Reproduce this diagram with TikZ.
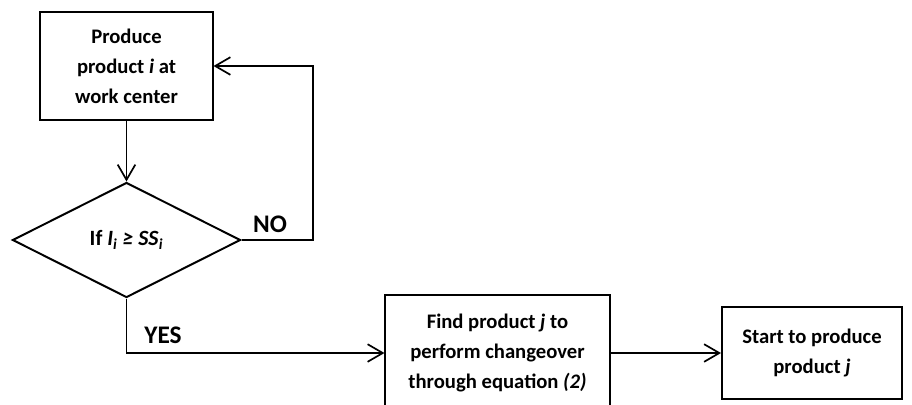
\documentclass[tikz,border=0pt]{standalone}
\usepackage{fontspec}
\setmainfont{Carlito}
\usetikzlibrary{shapes.geometric,arrows.meta}

\begin{document}
\begin{tikzpicture}[x=0.025cm, y=-0.025cm, line width=1.2pt,
                    box/.style={rectangle, draw, line width=1.4pt, align=center, inner sep=2pt,
                      font=\fontsize{14.7}{21.3}\selectfont\bfseries},
                    tag/.style={font=\fontsize{18}{20}\selectfont\bfseries},
                    arr/.style={-{Straight Barb[length=0.38cm, width=0.44cm]}}]
                    \useasboundingbox (0,0) rectangle (912,404);

                    \node (produce) [box, minimum width=4.3cm, minimum height=2.7cm] at (126.5,66) {Produce\\product \textit{i} at\\work center};
                    \node (decide) [diamond, draw, line width=1.4pt, minimum width=5.7cm, minimum height=2.875cm, inner sep=1pt,
                      font=\fontsize{15.5}{18}\selectfont\bfseries] at (126.5,240) {If \textit{I}\textsubscript{\textit{i}} \textit{≥ SS}\textsubscript{\textit{i}}};
                    \node (find) [box, minimum width=5.6cm, minimum height=2.9cm] at (497.5,353) {Find product \textit{j} to\\perform changeover\\through equation \textit{(2)}};
                    \node (start) [box, minimum width=4.5cm, minimum height=2.28cm] at (812,353) {Start to produce\\product \textit{j}};

                    \coordinate (noturn) at (313,66);

                    \draw[arr] (produce) -- (decide);
                    \draw[arr] (decide.east) -| (noturn) -- (produce.east);
                    \draw[arr] (decide.south) |- (find.west);
                    \draw[arr] (find) -- (start);

                    \node (no) [tag] at (270,224) {NO};
                    \node (yes) [tag] at (163,335) {YES};

                \end{tikzpicture}
\end{document}
